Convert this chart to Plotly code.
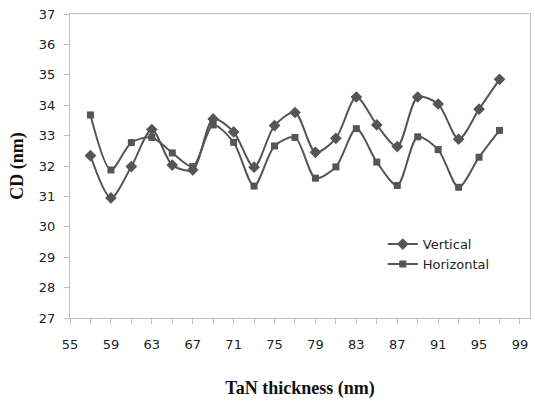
import plotly.graph_objects as go

thickness = [57, 59, 61, 63, 65, 67, 69, 71, 73, 75, 77, 79, 81, 83, 85, 87, 89, 91, 93, 95, 97]
vertical = [32.34, 30.95, 31.98, 33.2, 32.03, 31.87, 33.55, 33.12, 31.96, 33.33, 33.76,
            32.45, 32.91, 34.27, 33.35, 32.64, 34.27, 34.04, 32.88, 33.87, 34.85]
horizontal = [33.68, 31.87, 32.77, 32.94, 32.43, 31.98, 33.35, 32.78, 31.34, 32.66, 32.94,
              31.6, 31.97, 33.23, 32.13, 31.36, 32.96, 32.54, 31.3, 32.29, 33.17]

line_color = "#555555"
grid_color = "#bfbfbf"

fig = go.Figure()
fig.add_trace(go.Scatter(
    x=thickness, y=vertical, name="Vertical", mode="lines+markers",
    line=dict(color=line_color, width=2, shape="spline", smoothing=0.8),
    marker=dict(symbol="diamond", size=9, color=line_color),
))
fig.add_trace(go.Scatter(
    x=thickness, y=horizontal, name="Horizontal", mode="lines+markers",
    line=dict(color=line_color, width=2, shape="spline", smoothing=0.8),
    marker=dict(symbol="square", size=7, color=line_color),
))

fig.update_layout(
    width=535, height=405,
    margin=dict(l=70, r=5, t=14, b=87),
    paper_bgcolor="white", plot_bgcolor="white",
    font=dict(family="DejaVu Sans", size=13, color="#222222"),
    showlegend=True,
    legend=dict(x=0.68, y=0.21, xanchor="left", yanchor="middle",
                bgcolor="rgba(0,0,0,0)", font=dict(size=13, color="#222222"),
                tracegroupgap=0, itemwidth=30),
    xaxis=dict(
        range=[55, 99.98], tick0=55, dtick=4, ticks="outside", ticklen=5,
        tickcolor=grid_color, showgrid=False, zeroline=False,
        showline=True, linecolor=grid_color, linewidth=1, mirror=True,
        minor=dict(dtick=2, tick0=55, ticks="outside", ticklen=5, tickcolor=grid_color, showgrid=False),
        ticklabelstandoff=9,
        title=dict(text="TaN thickness (nm)", standoff=30,
                   font=dict(family="Liberation Serif", size=18, color="#111111", weight="bold")),
    ),
    yaxis=dict(
        range=[27, 37], dtick=1, ticks="outside", ticklen=5,
        tickcolor=grid_color, showgrid=False, zeroline=False,
        showline=True, linecolor=grid_color, linewidth=1, mirror=True,
        ticklabelstandoff=6,
        title=dict(text="CD (nm)", standoff=10,
                   font=dict(family="Liberation Serif", size=18, color="#111111", weight="bold")),
    ),
)

fig.write_html("out.html")
